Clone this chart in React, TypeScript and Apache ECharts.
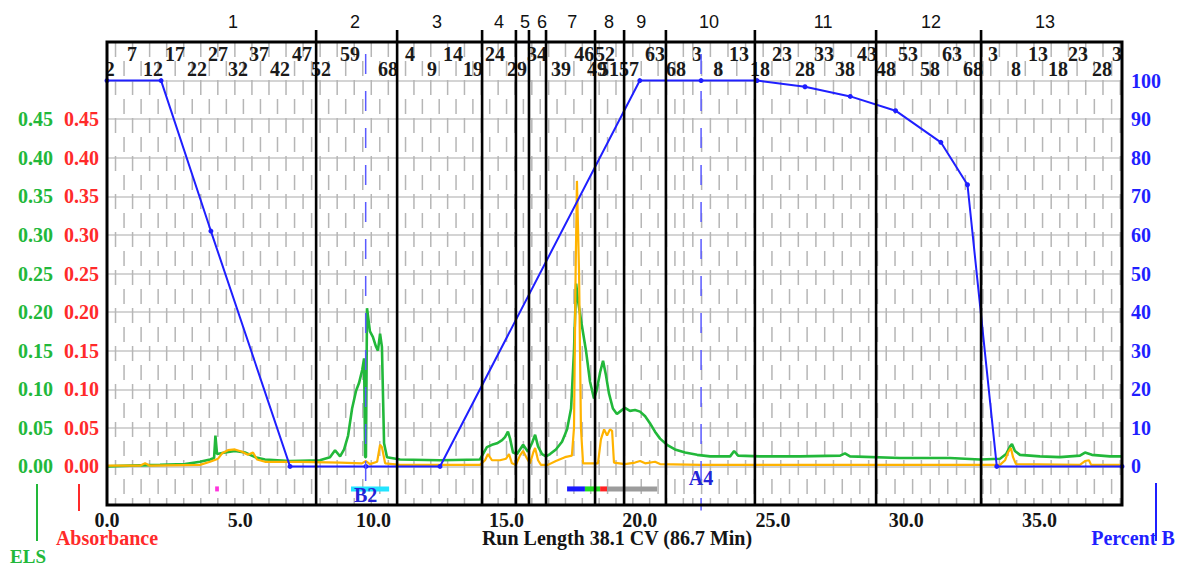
import React, { useEffect, useRef } from 'react';
import * as echarts from 'echarts';

const X_MAX = 38.1;
const SERIF = "'Liberation Serif', 'Times New Roman', serif";
const SANS = "'Liberation Sans', Arial, sans-serif";
const GREEN = '#22b83a';
const RED = '#ff2a2a';
const BLUE = '#1f1fff';
const ORANGE = '#ffb300';

// ELS trace [CV, signal]
const elsData: number[][] = [
  [0.0, 0.0], [0.86, 0.001], [1.99, 0.002], [2.93, 0.003], [3.49, 0.006], [3.87, 0.009],
  [4.02, 0.011], [4.07, 0.040], [4.13, 0.016], [4.43, 0.018], [4.8, 0.02], [5.18, 0.018],
  [5.56, 0.012], [5.93, 0.009], [6.87, 0.007], [7.99, 0.008], [8.37, 0.012], [8.56, 0.021],
  [8.75, 0.013], [8.9, 0.022], [9.05, 0.04], [9.2, 0.075], [9.35, 0.098], [9.46, 0.108],
  [9.58, 0.125], [9.65, 0.14], [9.69, 0.012], [9.72, 0.012], [9.76, 0.205], [9.87, 0.175],
  [9.98, 0.168], [10.1, 0.155], [10.17, 0.15], [10.25, 0.172], [10.32, 0.155], [10.4, 0.03],
  [10.51, 0.012], [11.0, 0.009], [12.5, 0.008], [14.0, 0.009], [14.26, 0.025], [14.45, 0.028],
  [14.64, 0.03], [14.83, 0.034], [14.94, 0.038], [15.05, 0.045], [15.13, 0.036], [15.24, 0.018],
  [15.39, 0.016], [15.62, 0.028], [15.8, 0.019], [15.95, 0.03], [16.07, 0.041], [16.18, 0.026],
  [16.33, 0.016], [16.48, 0.013], [16.63, 0.016], [16.85, 0.022], [17.08, 0.032], [17.27, 0.048],
  [17.42, 0.075], [17.53, 0.15], [17.61, 0.237], [17.68, 0.215], [17.79, 0.19], [17.98, 0.15],
  [18.13, 0.11], [18.28, 0.088], [18.39, 0.1], [18.51, 0.122], [18.62, 0.137], [18.73, 0.118],
  [18.84, 0.095], [18.99, 0.075], [19.14, 0.068], [19.29, 0.072], [19.44, 0.076], [19.63, 0.072],
  [19.82, 0.073], [20.01, 0.071], [20.2, 0.065], [20.38, 0.056], [20.57, 0.045], [20.76, 0.036],
  [21.02, 0.028], [21.32, 0.022], [21.7, 0.018], [22.15, 0.015], [22.64, 0.013], [23.39, 0.013],
  [23.54, 0.02], [23.69, 0.014], [24.51, 0.013], [26.01, 0.013], [27.52, 0.014], [27.7, 0.017],
  [27.89, 0.013], [29.77, 0.011], [31.64, 0.011], [32.77, 0.009], [33.52, 0.01], [33.75, 0.016],
  [33.9, 0.026], [33.97, 0.029], [34.08, 0.02], [34.27, 0.015], [34.65, 0.014], [35.02, 0.013],
  [35.77, 0.012], [36.52, 0.014], [36.71, 0.018], [36.97, 0.015], [37.65, 0.013], [38.1, 0.013],
];

// Absorbance trace [CV, AU]
const absData: number[][] = [
  [0.0, 0.001], [1.24, 0.001], [1.43, 0.004], [1.61, 0.001], [3.49, 0.002], [3.87, 0.006],
  [4.17, 0.01], [4.32, 0.017], [4.54, 0.021], [4.8, 0.022], [5.07, 0.019], [5.29, 0.015],
  [5.48, 0.018], [5.63, 0.009], [5.93, 0.006], [7.24, 0.006], [8.75, 0.005], [9.57, 0.004],
  [9.72, 0.007], [9.87, 0.003], [10.14, 0.006], [10.25, 0.028], [10.32, 0.025], [10.44, 0.004],
  [11.0, 0.002], [14.0, 0.002], [14.19, 0.008], [14.3, 0.016], [14.45, 0.008], [14.75, 0.008],
  [14.98, 0.01], [15.09, 0.016], [15.2, 0.004], [15.35, 0.002], [15.5, 0.014], [15.62, 0.02],
  [15.77, 0.01], [15.88, 0.004], [16.0, 0.018], [16.07, 0.024], [16.18, 0.008], [16.29, 0.002],
  [16.55, 0.002], [16.85, 0.007], [17.19, 0.012], [17.45, 0.014], [17.53, 0.05], [17.59, 0.25],
  [17.64, 0.37], [17.72, 0.25], [17.79, 0.05], [17.87, 0.004], [18.43, 0.004], [18.54, 0.035],
  [18.66, 0.048], [18.77, 0.04], [18.88, 0.048], [18.96, 0.046], [19.03, 0.005], [19.44, 0.003],
  [19.82, 0.005], [20.01, 0.007], [20.2, 0.004], [20.57, 0.006], [20.76, 0.003], [22.26, 0.002],
  [26.01, 0.002], [29.77, 0.002], [33.52, 0.002], [33.71, 0.008], [33.82, 0.018], [33.93, 0.024],
  [34.01, 0.012], [34.12, 0.003], [36.52, 0.002], [36.71, 0.007], [36.86, 0.008], [36.94, 0.002],
  [38.1, 0.002],
];

// Gradient, percent B [CV, %]
const percentB: number[][] = [
  [0, 100], [2.03, 100], [3.9, 61], [6.87, 0], [9.72, 0], [12.5, 0], [20.0, 100], [22.3, 100],
  [24.4, 100], [26.2, 98.4], [27.9, 95.9], [29.6, 92.2], [31.3, 84], [32.3, 73], [33.4, 0],
  [38.1, 0],
];

const sectionBounds = [7.85, 10.89, 14.08, 15.35, 15.84, 16.48, 18.32, 19.41, 20.98, 24.32, 28.87, 32.81];
const sectionNames = ['1', '2', '3', '4', '5', '6', '7', '8', '9', '10', '11', '12', '13'];
const sectionLabelPos = [4.73, 9.31, 12.39, 14.71, 15.69, 16.33, 17.46, 18.84, 20.05, 22.6, 26.88, 30.93, 35.21];

const fractionText = [
  '2', '7', '12', '17', '22', '27', '32', '37', '42', '47', '52', '59', '68',
  '4', '9', '14', '19', '24', '29', '34', '39', '46', '52', '49', '51', '57', '63', '68',
  '3', '8', '13', '18', '23', '28', '33', '38', '43', '48', '53', '58', '63', '68',
  '3', '8', '13', '18', '23', '28', '33',
];
const fractionPos = [
  0.1, 0.94, 1.73, 2.55, 3.38, 4.17, 4.92, 5.71, 6.49, 7.32, 8.03, 9.12, 10.55,
  11.37, 12.2, 12.99, 13.74, 14.56, 15.39, 16.14, 17.04, 17.91, 18.69, 18.39, 18.84, 19.59, 20.57, 21.36,
  22.15, 22.94, 23.72, 24.51, 25.34, 26.2, 26.91, 27.7, 28.53, 29.24, 30.07, 30.89, 31.72, 32.51,
  33.26, 34.12, 34.95, 35.7, 36.45, 37.35, 38.1,
];
const fractionRow = [
  1, 0, 1, 0, 1, 0, 1, 0, 1, 0, 1, 0, 1,
  0, 1, 0, 1, 0, 1, 0, 1, 0, 0, 1, 1, 1, 0, 1,
  0, 1, 0, 1, 0, 1, 0, 1, 0, 1, 0, 1, 0, 1,
  0, 1, 0, 1, 0, 1, 0,
];

// fraction racks (tube grid)
const rackStart = [0, 10.89, 21.66, 32.85];
const rackTubeWidth = [0.16, 0.158, 0.165, 0.162];
const rackTubes = [68, 68, 68, 33];

const markerNames = ['B2', 'A4'];
const markerPos = [9.71, 22.3];

const collectStart = [4.06, 9.16, 17.27, 17.94, 18.51, 18.77];
const collectEnd = [4.2, 10.59, 17.94, 18.51, 18.77, 20.65];
const collectColor = ['#ff33dd', '#22e4ff', '#1a1aff', '#22dd22', '#ff2222', '#9c9c9c'];

function buildTubeLines(): number[][] {
  const out: number[][] = [];
  for (let r = 0; r < rackStart.length; r++) {
    for (let t = 0; t <= rackTubes[r]; t += 2) {
      const x = rackStart[r] + t * rackTubeWidth[r];
      if (x > 0.05 && x < X_MAX - 0.05) out.push([x, 0]);
    }
  }
  return out;
}

const fmtLeft = (v: number) => {
  if (Math.abs(v) < 1e-9) return '0.00';
  if (v < 0 || v > 0.451) return '';
  return v.toFixed(2);
};

const centerText = { align: 'center', verticalAlign: 'middle', textAlign: 'center', textVerticalAlign: 'middle' };

export default function App() {
  const ref = useRef<HTMLDivElement>(null);
  useEffect(() => {
    document.body.style.margin = '0';
    if (!ref.current) return;
    const chart = echarts.init(ref.current, null, { renderer: 'svg' });
    const leftLabel = (color: string) => ({
      formatter: fmtLeft,
      color,
      fontFamily: SERIF,
      fontWeight: 'bold',
      fontSize: 20,
      margin: 8,
    });
    const option: any = {
      animation: false,
      backgroundColor: '#fff',
      grid: { left: 107, right: 56, top: 42, bottom: 62 },
      xAxis: {
        type: 'value', min: 0, max: X_MAX, interval: 5,
        axisLine: { show: false }, axisTick: { show: false }, splitLine: { show: false },
        axisLabel: {
          formatter: (v: number) => v.toFixed(1), showMaxLabel: false,
          fontFamily: SERIF, fontWeight: 'bold', fontSize: 20, color: '#151515', margin: 5,
        },
      },
      yAxis: [
        {
          type: 'value', min: -0.05, max: 0.55, interval: 0.05, position: 'left', offset: 46,
          axisLine: { show: false }, axisTick: { show: false }, splitLine: { show: false },
          axisLabel: leftLabel(GREEN),
        },
        {
          type: 'value', min: -0.05, max: 0.55, interval: 0.05, position: 'left',
          axisLine: { show: false }, axisTick: { show: false },
          splitLine: { show: true, lineStyle: { color: '#c6c6c6', width: 1.5 } },
          axisLabel: leftLabel(RED),
        },
        {
          type: 'value', min: -10, max: 110, interval: 10, position: 'right',
          axisLine: { show: false }, axisTick: { show: false }, splitLine: { show: false },
          axisLabel: {
            formatter: (v: number) => (v < 0 || v > 100 ? '' : String(Math.round(v))),
            color: BLUE, fontFamily: SERIF, fontWeight: 'bold', fontSize: 20, margin: 9,
          },
        },
      ],
      series: [
        {
          type: 'custom', name: 'tubes', yAxisIndex: 1, clip: true, z: 1, silent: true,
          data: buildTubeLines(),
          renderItem: (params: any, api: any) => {
            const x = api.coord([api.value(0), 0])[0];
            const cs = params.coordSys;
            return {
              type: 'line',
              shape: { x1: x, y1: cs.y, x2: x, y2: cs.y + cs.height },
              style: { stroke: '#b6b6b6', lineWidth: 1.5, lineDash: [15, 23], lineDashOffset: (params.dataIndex % 2) * 19 },
            };
          },
        },
        {
          type: 'custom', name: 'fractions', yAxisIndex: 1, clip: true, z: 2, silent: true,
          data: fractionPos.map((p) => [p, 0]),
          renderItem: (params: any, api: any) => {
            const i = params.dataIndex;
            const x = api.coord([api.value(0), 0])[0];
            const cs = params.coordSys;
            return {
              type: 'text',
              x, y: cs.y + (fractionRow[i] ? 27 : 12),
              style: {
                text: fractionText[i], fill: '#1a1a1a', fontFamily: SERIF, fontWeight: 'bold', fontSize: 20,
                ...centerText,
              },
            };
          },
        },
        {
          type: 'line', name: 'ELS', yAxisIndex: 0, data: elsData, showSymbol: false, z: 3,
          lineStyle: { color: GREEN, width: 2.6 }, itemStyle: { color: GREEN },
        },
        {
          type: 'line', name: 'Absorbance', yAxisIndex: 1, data: absData, showSymbol: false, z: 4,
          lineStyle: { color: ORANGE, width: 2.2 }, itemStyle: { color: ORANGE },
        },
        {
          type: 'line', name: 'Percent B', yAxisIndex: 2, data: percentB, z: 5,
          symbol: 'circle', symbolSize: 5, showSymbol: true,
          lineStyle: { color: BLUE, width: 2 }, itemStyle: { color: BLUE },
        },
        {
          type: 'custom', name: 'collect', yAxisIndex: 1, clip: false, z: 6, silent: true,
          data: collectStart.map((s) => [s, 0]),
          renderItem: (params: any, api: any) => {
            const i = params.dataIndex;
            const p0 = api.coord([collectStart[i], 0]);
            const p1 = api.coord([collectEnd[i], 0]);
            return {
              type: 'rect',
              shape: { x: p0[0], y: p0[1] + 20, width: p1[0] - p0[0], height: 5 },
              style: { fill: collectColor[i] },
            };
          },
        },
        {
          type: 'custom', name: 'markers', yAxisIndex: 1, clip: false, z: 7, silent: true,
          data: markerPos.map((p) => [p, 0]),
          renderItem: (params: any, api: any) => {
            const i = params.dataIndex;
            const p = api.coord([api.value(0), 0]);
            const cs = params.coordSys;
            const lineEnd = i === 0 ? 24 : 44;
            const labelDy = i === 0 ? 29 : 12;
            return {
              type: 'group',
              children: [
                {
                  type: 'line',
                  shape: { x1: p[0], y1: cs.y + 12, x2: p[0], y2: p[1] + lineEnd },
                  style: { stroke: '#5a5aff', lineWidth: 1.5, lineDash: [20, 17] },
                },
                {
                  type: 'text', x: p[0], y: p[1] + labelDy,
                  style: {
                    text: markerNames[i], fill: '#2424d8', fontFamily: SERIF, fontWeight: 'bold', fontSize: 20,
                    ...centerText,
                  },
                },
              ],
            };
          },
        },
        {
          type: 'custom', name: 'sections', yAxisIndex: 1, clip: false, z: 8, silent: true,
          data: sectionBounds.map((b) => [b, 0]),
          renderItem: (params: any, api: any) => {
            const x = api.coord([api.value(0), 0])[0];
            const cs = params.coordSys;
            return {
              type: 'line',
              shape: { x1: x, y1: cs.y - 12, x2: x, y2: cs.y + cs.height },
              style: { stroke: '#000', lineWidth: 2.6 },
            };
          },
        },
        {
          type: 'custom', name: 'sectionLabels', yAxisIndex: 1, clip: false, z: 8, silent: true,
          data: sectionLabelPos.map((b) => [b, 0]),
          renderItem: (params: any, api: any) => {
            const i = params.dataIndex;
            const x = api.coord([api.value(0), 0])[0];
            const cs = params.coordSys;
            return {
              type: 'text', x, y: cs.y - 20,
              style: {
                text: sectionNames[i], fill: '#111', fontFamily: SANS, fontSize: 18,
                ...centerText,
              },
            };
          },
        },
      ],
      graphic: [
        {
          type: 'rect', z: 100, silent: true,
          shape: { x: 107, y: 42, width: 1015, height: 463 },
          style: { fill: 'none', stroke: '#000', lineWidth: 3 },
        },
        {
          type: 'text', x: 617, y: 538, z: 100,
          style: {
            text: 'Run Length 38.1 CV (86.7 Min)', fill: '#151515', fontFamily: SERIF, fontWeight: 'bold', fontSize: 20,
            ...centerText,
          },
        },
        {
          type: 'text', x: 107, y: 538, z: 100,
          style: {
            text: 'Absorbance', fill: RED, fontFamily: SERIF, fontWeight: 'bold', fontSize: 20,
            ...centerText,
          },
        },
        {
          type: 'text', x: 28, y: 556, z: 100,
          style: {
            text: 'ELS', fill: GREEN, fontFamily: SERIF, fontWeight: 'bold', fontSize: 19,
            ...centerText,
          },
        },
        {
          type: 'text', x: 1133, y: 538, z: 100,
          style: {
            text: 'Percent B', fill: BLUE, fontFamily: SERIF, fontWeight: 'bold', fontSize: 20,
            ...centerText,
          },
        },
        { type: 'line', z: 100, shape: { x1: 37, y1: 484, x2: 37, y2: 541 }, style: { stroke: GREEN, lineWidth: 2 } },
        { type: 'line', z: 100, shape: { x1: 79, y1: 484, x2: 79, y2: 511 }, style: { stroke: RED, lineWidth: 2 } },
        { type: 'line', z: 100, shape: { x1: 1156, y1: 483, x2: 1156, y2: 541 }, style: { stroke: BLUE, lineWidth: 2 } },
      ],
    };
    chart.setOption(option);
    return () => chart.dispose();
  }, []);
  return <div ref={ref} style={{ width: 1178, height: 567 }} />;
}
